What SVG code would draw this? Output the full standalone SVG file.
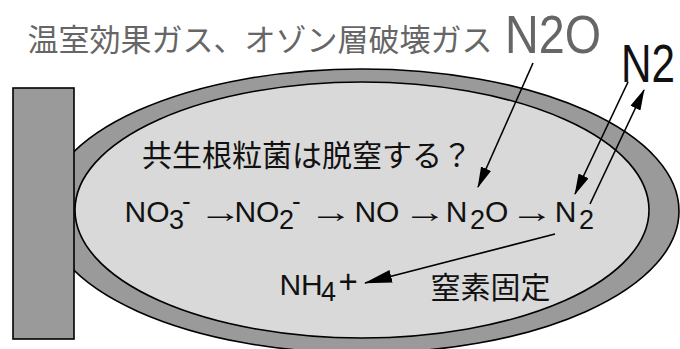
<svg xmlns="http://www.w3.org/2000/svg" width="680" height="349" viewBox="0 0 680 349">
  <style>
    .jp { font-family: "Noto Sans CJK JP", "Noto Sans CJK SC", sans-serif; }
    .lat { font-family: "Liberation Sans", Arial, sans-serif; }
    .ink { fill: #111; }
    .grey { fill: #666; }
    .edge { stroke: #000; stroke-width: 1.6; }
    .conn { stroke: #000; stroke-width: 1.6; fill: none; }
    .rxn { font-size: 30px; text-anchor: middle; }
  </style>
  <defs>
    <marker id="head" markerUnits="userSpaceOnUse" markerWidth="21" markerHeight="12" refX="20" refY="5.5" orient="auto">
      <path d="M0,0 L21,5.5 L0,11 Z" fill="#000"/>
    </marker>
    <marker id="head-long" markerUnits="userSpaceOnUse" markerWidth="28" markerHeight="14" refX="27" refY="6.5" orient="auto">
      <path d="M0,0 L28,6.5 L0,13 Z" fill="#000"/>
    </marker>
  </defs>

  <rect width="680" height="349" fill="#fff"/>

  <!-- root nodule: outer cortex band and inner infected zone -->
  <g id="nodule">
    <ellipse cx="362" cy="211" rx="317" ry="142" fill="#9a9a9a" class="edge"/>
    <ellipse cx="362" cy="210" rx="287" ry="128" fill="#d9d9d9" class="edge"/>
  </g>

  <!-- root the nodule grows on -->
  <g id="root">
    <rect x="13" y="88" width="61" height="251" fill="#9a9a9a" class="edge"/>
  </g>

  <g id="title">
    <text class="jp grey" x="27.5" y="51" font-size="31">温室効果ガス、オゾン層破壊ガス</text>
  </g>

  <g id="n2o-gas">
    <text class="lat grey" x="505" y="53" font-size="53" textLength="96" lengthAdjust="spacingAndGlyphs">N2O</text>
  </g>

  <g id="n2-gas">
    <text class="lat ink" x="621" y="82" font-size="54" textLength="54" lengthAdjust="spacingAndGlyphs">N2</text>
  </g>

  <g id="question">
    <text class="jp ink" x="142" y="166" font-size="30">共生根粒菌は脱窒する？</text>
  </g>

  <!-- denitrification pathway; reaction arrows are widened glyphs -->
  <g id="pathway" class="lat ink">
    <text x="124.5" y="222" font-size="30">NO</text>
    <text x="169" y="228.5" font-size="27">3</text>
    <text x="182" y="210" font-size="26">-</text>
    <text class="rxn" transform="translate(220.5,222) scale(1.45,1)">→</text>
    <text x="234.4" y="222" font-size="30">NO</text>
    <text x="279" y="228.5" font-size="27">2</text>
    <text x="292" y="210" font-size="26">-</text>
    <text class="rxn" transform="translate(331,222) scale(1.45,1)">→</text>
    <text x="354.4" y="222" font-size="30">NO</text>
    <text class="rxn" transform="translate(425,222) scale(1.45,1)">→</text>
    <text x="445.7" y="222" font-size="30">N</text>
    <text x="470" y="228.5" font-size="27">2</text>
    <text x="485" y="222" font-size="30">O</text>
    <text class="rxn" transform="translate(532,222) scale(1.45,1)">→</text>
    <text x="554.7" y="222" font-size="30">N</text>
    <text x="579" y="228.5" font-size="27">2</text>
  </g>

  <g id="nh4" class="lat ink">
    <text x="279.4" y="295" font-size="30">NH</text>
    <text x="321" y="300.5" font-size="27">4</text>
    <text x="338.5" y="293" font-size="33">+</text>
  </g>

  <g id="fixation-label">
    <text class="jp ink" x="430.5" y="298" font-size="30">窒素固定</text>
  </g>

  <g id="connectors">
    <line class="conn" x1="533" y1="63" x2="478" y2="187" marker-end="url(#head)"/>
    <line class="conn" x1="628" y1="82" x2="575" y2="194" marker-end="url(#head)"/>
    <line class="conn" x1="590" y1="204" x2="644" y2="90" marker-end="url(#head)"/>
    <line class="conn" x1="555" y1="234" x2="365" y2="283" marker-end="url(#head-long)"/>
  </g>
</svg>
